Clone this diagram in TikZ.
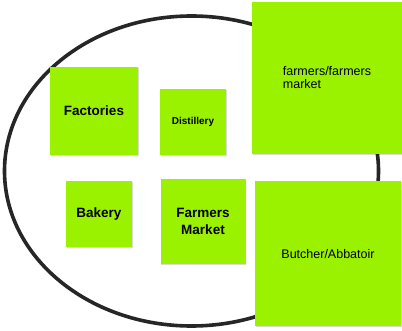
\documentclass[tikz,border=0pt]{standalone}
\usepackage{fontspec}
\setmainfont{Liberation Sans}
\usetikzlibrary{shadows}
\definecolor{lime}{RGB}{155,242,0}
\definecolor{ring}{RGB}{38,38,38}
\tikzset{
  sticky/.style={fill=lime, draw=none, inner sep=0pt, align=center,
    drop shadow={shadow xshift=0.5pt, shadow yshift=-0.8pt, opacity=0.15, fill=black}},
  bigtxt/.style={font=\fontsize{13.5}{15}\selectfont\bfseries},
  smalltxt/.style={font=\fontsize{12.5}{14}\selectfont},
}
\begin{document}
\begin{tikzpicture}[x=1pt,y=-1pt]
\useasboundingbox (0,0) rectangle (402,331);
\fill[white] (0,0) rectangle (402,331);
\draw[ring, line width=3.6pt] (191.5,171) ellipse [x radius=187pt, y radius=155pt];
\node[sticky, bigtxt, minimum width=88pt, minimum height=88pt] (factories) at (94,111) {Factories};
\node[sticky, font=\fontsize{10}{12}\selectfont\bfseries, minimum width=66pt, minimum height=66pt] (distillery) at (193,122) {Distillery};
\node[sticky, smalltxt, align=left, minimum width=150pt, minimum height=152pt] (farmers) at (327,78) {farmers/farmers\\[-1pt]market};
\node[sticky, bigtxt, minimum width=66pt, minimum height=66pt] (bakery) at (99,214) {Bakery};
\node[sticky, font=\fontsize{13.5}{16.5}\selectfont\bfseries, minimum width=85pt, minimum height=85pt] (market) at (203,221.5) {Farmers\\Market};
\node[sticky, smalltxt, minimum width=146pt, minimum height=145pt] (butcher) at (328,254) {Butcher/Abbatoir};
\end{tikzpicture}
\end{document}
